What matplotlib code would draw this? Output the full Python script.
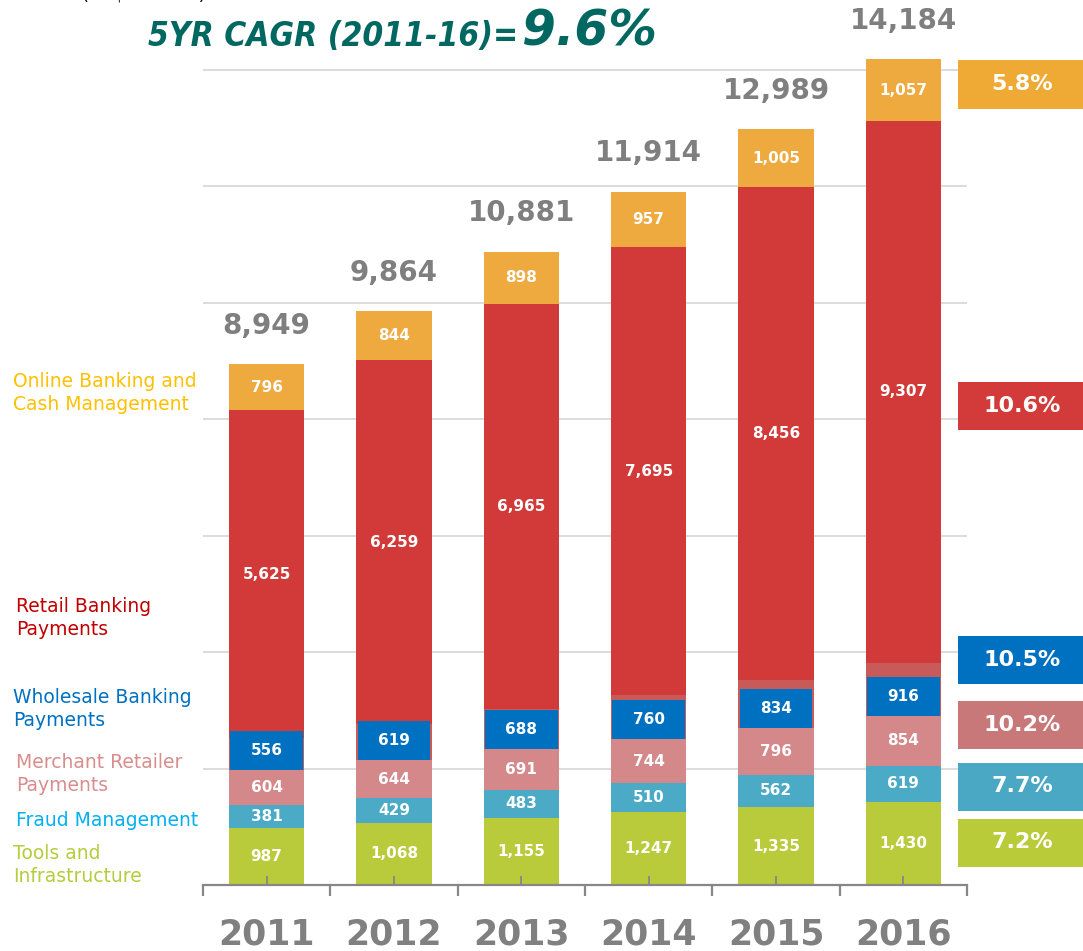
import matplotlib
matplotlib.use('Agg')
import matplotlib.pyplot as plt
from matplotlib.patches import Rectangle
import numpy as np

# ---------------- data ----------------
years = ['2011', '2012', '2013', '2014', '2015', '2016']
tools = [987, 1068, 1155, 1247, 1335, 1430]
fraud = [381, 429, 483, 510, 562, 619]
merchant = [604, 644, 691, 744, 796, 854]
wholesale = [556, 619, 688, 760, 834, 916]
retail = [5625, 6259, 6965, 7695, 8456, 9307]
online = [796, 844, 898, 957, 1005, 1057]
totals = [8949, 9864, 10881, 11914, 12989, 14184]

segment_names = ['Tools and\nInfrastructure', 'Fraud Management',
                 'Merchant Retailer\nPayments', 'Wholesale Banking\nPayments',
                 'Retail Banking\nPayments', 'Online Banking and\nCash Management']
cagr_labels = ['7.2%', '7.7%', '10.2%', '10.5%', '10.6%', '5.8%']
title_text = '5YR CAGR (2011-16)='
title_value = '9.6%'
unit_text = '(US$ Millions)'

# ---------------- style ----------------
W, H = 1083, 951
c_green = '#B9CB3A'
c_teal = '#4BAAC5'
c_pink = '#D4888A'
c_strip = '#C85A5A'
c_blue = '#0070C0'
c_red = '#D23A3A'
c_orange = '#EEAA3F'
grey = '#7F7F7F'
BOX_H = 670  # height of the blue label box for wholesale segment

fig = plt.figure(figsize=(W / 100, H / 100), dpi=100)
fig.patch.set_facecolor('white')
ax = fig.add_axes([203 / W, 66 / H, 764 / W, 885 / H])
ax.set_xlim(-0.5, 5.5)
ax.set_ylim(0, 15203)
ax.set_axisbelow(False)

x = np.arange(len(years))
bw = 0.59

# gridlines
ax.hlines(np.arange(2000, 14001, 2000), -0.5, 5.5, color='#D9D9D9', lw=1.3, zorder=0.5)

series = [tools, fraud, merchant, wholesale, retail, online]
colors = [c_green, c_teal, c_pink, c_strip, c_red, c_orange]
bottom = np.zeros(len(years))
bottoms = []
for vals, col in zip(series, colors):
    ax.bar(x, vals, bw, bottom=bottom, color=col, zorder=2, linewidth=0)
    bottoms.append(bottom.copy())
    bottom = bottom + np.array(vals)

# blue label boxes for wholesale
for i in range(len(years)):
    ax.add_patch(Rectangle((x[i] - bw / 2 + 0.01, bottoms[3][i]), bw - 0.02, BOX_H,
                           facecolor=c_blue, edgecolor='none', zorder=3))

# segment labels
for k, vals in enumerate(series):
    for i in range(len(years)):
        if k == 3:
            yc = bottoms[3][i] + BOX_H / 2
        else:
            yc = bottoms[k][i] + vals[i] / 2
        ax.text(x[i], yc, f'{vals[i]:,}', ha='center', va='center', color='white',
                fontsize=11, fontweight='bold', zorder=5)

# totals
for i in range(len(years)):
    ax.annotate(f'{totals[i]:,}', xy=(x[i], totals[i]), xytext=(0, 27.5),
                textcoords='offset points', ha='center', va='center',
                fontsize=20, fontweight='bold', color=grey, zorder=5)

# year labels
for i in range(len(years)):
    ax.annotate(years[i], xy=(x[i], 0), xytext=(0, -35.6), textcoords='offset points',
                ha='center', va='center', fontsize=25, fontweight='bold',
                color='#808080', annotation_clip=False)

# axes styling
for s in ['top', 'left', 'right']:
    ax.spines[s].set_visible(False)
ax.spines['bottom'].set_color('#878787')
ax.spines['bottom'].set_linewidth(1.6)
ax.spines['bottom'].set_zorder(4)
ax.set_yticks([])
ax.set_xticks(np.arange(-0.5, 6, 1))
ax.set_xticks(x, minor=True)
ax.tick_params(axis='x', which='major', direction='out', length=8, width=1.6,
               color='#878787', labelbottom=False)
ax.tick_params(axis='x', which='minor', direction='in', length=6.5, width=1.3,
               color='#878787', labelbottom=False)

# left labels
left_cols = ['#B5CC3C', '#00B0F0', '#D98D8D', '#0070C0', '#C00000', '#FFC000']
left_pos = [(13, 865), (16, 820), (16, 774), (13, 709), (16, 618), (13, 393)]
for name, col, (px, py) in zip(segment_names, left_cols, left_pos):
    fig.text(px / W, 1 - py / H, name, ha='left', va='center', fontsize=13.5,
             color=col, linespacing=1.3)

# right CAGR boxes
box_cols = ['#BACB3A', '#4BA8C4', '#C87878', '#0070C0', '#D33A3A', '#EFA935']
box_y = [842.5, 786.5, 725, 659.5, 406, 84.5]
for lab, col, yc in zip(cagr_labels, box_cols, box_y):
    fig.add_artist(Rectangle((958 / W, 1 - (yc + 24) / H), 125 / W, 48 / H,
                             transform=fig.transFigure, facecolor=col, edgecolor='none'))
    fig.text(1022 / W, 1 - yc / H, lab, ha='center', va='center', color='white',
             fontsize=16, fontweight='bold')

# title
fig.text(148 / W, 1 - 36 / H, title_text, ha='left', va='center',
         fontsize=24, fontweight='bold', fontstyle='italic', fontstretch='condensed',
         color='#006860', family='DejaVu Sans')
fig.text(522 / W, 1 - 31 / H, title_value, ha='left', va='center',
         fontsize=35, fontweight='bold', fontstyle='italic', color='#006860')

# cut-off unit text at very top (partly outside the canvas, as in the original)
fig.text(82 / W, 1 + 5 / H, unit_text, ha='left', va='center', fontsize=13, color='black')

fig.savefig('out.png', dpi=100, facecolor='white')
